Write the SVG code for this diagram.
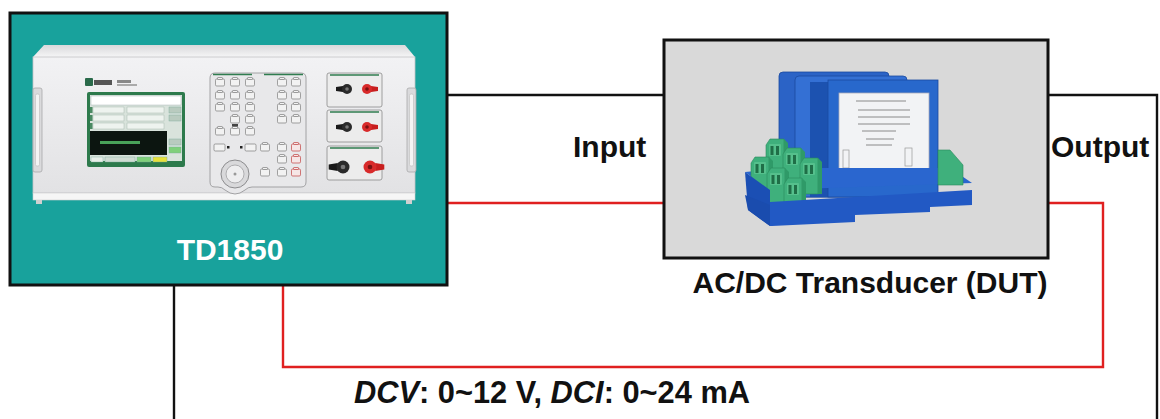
<svg xmlns="http://www.w3.org/2000/svg" width="1160" height="419" viewBox="0 0 1160 419">
<defs>
<style>
.lbl{font-family:"Liberation Sans",Arial,sans-serif;font-weight:bold;font-size:30px;fill:#111}
.wire{fill:none;stroke-width:2.4;stroke-linejoin:miter}
.blk{stroke:#111}
.red{stroke:#e02020}
.key{fill:#f2f2f2;stroke:#7d7d7d;stroke-width:0.7}
.kred{fill:#f6e6e6;stroke:#c04040;stroke-width:0.7}
.tpanel{fill:#ececec;stroke:#8a8a8a;stroke-width:0.8}
.gbar{stroke:#2f7d4f;stroke-width:1.6}
.term{fill:#3fb07c;stroke:#2a8a5c;stroke-width:0.6}
.termd{fill:#2f9a68}
.slot{fill:#1f6e47}
</style>
<linearGradient id="bodyG" x1="0" y1="0" x2="0" y2="1">
<stop offset="0" stop-color="#f2f2f4"/><stop offset="1" stop-color="#e2e2e4"/>
</linearGradient>
<linearGradient id="topG" x1="0" y1="0" x2="0" y2="1">
<stop offset="0" stop-color="#d9d9db"/><stop offset="1" stop-color="#f5f5f6"/>
</linearGradient>
<g id="k"><rect x="-4.5" y="-3" width="9" height="7" rx="1.2" class="key"/><rect x="-2.5" y="-4.5" width="5" height="2" rx="0.6" class="key"/></g>
<g id="kr"><rect x="-4.5" y="-3" width="9" height="7" rx="1.2" class="kred"/><rect x="-2.5" y="-4.5" width="5" height="2" rx="0.6" class="kred"/></g>
<g id="bpost"><path d="M-11,-2 L-4,-3 L-4,3 L-11,2 Z" fill="#1a1a1a"/><circle r="5" fill="#2a2a2a"/><circle r="1.8" fill="#777"/></g>
<g id="rpost"><path d="M11,-2 L4,-3 L4,3 L11,2 Z" fill="#c81e1e"/><circle r="5" fill="#d82a2a"/><circle r="1.8" fill="#7a1010"/></g>
<g id="tb"><path d="M0,6 L4,0 L18,0 L18,36 L0,36 Z" class="term"/><path d="M18,0 L22,4 L22,36 L18,36 Z" class="termd"/><rect x="3" y="5" width="12" height="12" rx="1" fill="#55c08c"/><rect x="4.5" y="7" width="3" height="9" class="slot"/><rect x="10" y="7" width="3" height="9" class="slot"/></g>
</defs>
<rect width="1160" height="419" fill="#ffffff"/>

<g id="connectors">
<polyline class="wire blk" points="448,95 664,95"/>
<polyline class="wire red" points="448,203 664,203"/>
<polyline class="wire blk" points="1048,95 1157,95 1157,419"/>
<polyline class="wire red" points="1048,203 1103,203 1103,367 283,367 283,286"/>
<polyline class="wire blk" points="174,286 174,419"/>
<text class="lbl" x="573" y="157">Input</text>
<text class="lbl" x="1051" y="157">Output</text>
<text class="lbl" x="354" y="403" style="font-size:30.8px"><tspan font-style="italic">DCV</tspan>: 0~12 V, <tspan font-style="italic">DCI</tspan>: 0~24 mA</text>
</g>

<g id="td1850">
<rect x="10" y="13" width="437" height="272" fill="#18a29c" stroke="#111" stroke-width="3"/>
<polygon points="44,45 405,45 415,57 33,57" fill="url(#topG)"/>
<rect x="33" y="57" width="382" height="136" fill="url(#bodyG)" stroke="#c4c4c6" stroke-width="0.8"/>
<rect x="33" y="193" width="382" height="7" fill="#f6f6f6" stroke="#cfcfcf" stroke-width="0.6"/>
<rect x="36" y="200" width="6" height="4" fill="#d0d0d0"/>
<rect x="406" y="200" width="6" height="4" fill="#d0d0d0"/>
<rect x="33" y="88" width="9" height="84" rx="2" fill="#dadadc" stroke="#a8a8aa" stroke-width="0.8"/>
<rect x="35.5" y="94" width="4" height="72" rx="1.5" fill="#f4f4f4" stroke="#b4b4b4" stroke-width="0.5"/>
<rect x="407" y="88" width="9" height="84" rx="2" fill="#dadadc" stroke="#a8a8aa" stroke-width="0.8"/>
<rect x="409.5" y="94" width="4" height="72" rx="1.5" fill="#f4f4f4" stroke="#b4b4b4" stroke-width="0.5"/>
<g fill="#2a6a4a"><rect x="85" y="78" width="8" height="8" rx="1"/><rect x="94" y="80" width="18" height="5" fill="#555"/><rect x="117" y="80" width="14" height="3" fill="#888"/><rect x="117" y="84" width="20" height="2" fill="#aaa"/></g>
<rect x="87" y="92" width="98" height="75" rx="2" fill="#2d7a4c"/>
<rect x="90" y="95" width="92" height="66" fill="#d9e3dc"/>
<rect x="91" y="96" width="90" height="9" fill="#ffffff" stroke="#9aa" stroke-width="0.4"/>
<g fill="#eef3ef" stroke="#9ab0a0" stroke-width="0.4">
<rect x="93" y="107" width="31" height="6"/><rect x="127" y="107" width="37" height="6"/>
<rect x="93" y="115" width="31" height="6"/><rect x="127" y="115" width="37" height="6"/>
<rect x="93" y="123" width="31" height="6"/><rect x="127" y="123" width="37" height="6"/>
</g>
<g fill="#4a8a62"><rect x="90" y="107" width="2.5" height="6"/><rect x="90" y="115" width="2.5" height="6"/><rect x="90" y="123" width="2.5" height="6"/></g>
<rect x="90" y="131" width="77" height="24" fill="#0c1510"/>
<rect x="100" y="141" width="40" height="3" fill="#57c46a" opacity="0.8"/>
<g fill="#b9cbbf" stroke="#7a9" stroke-width="0.4"><rect x="169" y="107" width="12" height="6"/><rect x="169" y="115" width="12" height="6"/><rect x="169" y="139" width="12" height="6"/><rect x="169" y="147" width="12" height="6" fill="#7fd07a"/></g>
<g stroke="#7a9" stroke-width="0.4"><rect x="91" y="157" width="12" height="5" fill="#e8efe9"/><rect x="105" y="157" width="30" height="5" fill="#cfdcd3"/><rect x="137" y="157" width="14" height="5" fill="#7fd07a"/><rect x="153" y="157" width="14" height="5" fill="#e6e03a"/></g>
<path d="M215,73 H301 Q306,73 306,78 V182 Q306,187 301,187 H252 Q248,187 245,190 Q235,198 225,190 Q222,187 218,187 H215 Q210,187 210,182 V78 Q210,73 215,73 Z" fill="#e8e8ea" stroke="#9a9a9c" stroke-width="0.9"/>
<line x1="213" y1="74.5" x2="252" y2="74.5" class="gbar"/>
<line x1="264" y1="74.5" x2="303" y2="74.5" class="gbar"/>
<g>
<use href="#k" x="220" y="82"/><use href="#k" x="235" y="82"/><use href="#k" x="250" y="82"/><use href="#k" x="282" y="82"/><use href="#k" x="296" y="82"/>
<use href="#k" x="220" y="95"/><use href="#k" x="235" y="95"/><use href="#k" x="250" y="95"/><use href="#k" x="282" y="95"/><use href="#k" x="296" y="95"/>
<use href="#k" x="220" y="107"/><use href="#k" x="235" y="107"/><use href="#k" x="250" y="107"/><use href="#k" x="282" y="107"/><use href="#k" x="296" y="107"/>
<use href="#k" x="235" y="119"/><use href="#k" x="250" y="119"/><use href="#k" x="282" y="119"/><use href="#k" x="296" y="119"/>
<use href="#k" x="220" y="131"/><use href="#k" x="235" y="131"/><use href="#k" x="250" y="131"/>
<use href="#k" x="265" y="147"/><use href="#k" x="282" y="147"/><use href="#kr" x="296" y="147"/>
<use href="#k" x="282" y="159"/><use href="#kr" x="296" y="159"/>
<use href="#k" x="265" y="172"/><use href="#k" x="282" y="172"/><use href="#kr" x="296" y="172"/>
</g>
<rect x="232" y="124" width="6" height="2.5" fill="#444"/>
<rect x="214" y="144" width="11" height="7" rx="1.2" class="key"/><rect x="227" y="146" width="2.5" height="2.5" fill="#222"/>
<rect x="245" y="144" width="11" height="7" rx="1.2" class="key"/><rect x="240" y="146" width="2.5" height="2.5" fill="#222"/>
<circle cx="235" cy="174" r="14" fill="#d9d9db" stroke="#8c8c8e" stroke-width="1"/>
<circle cx="235" cy="174" r="9" fill="#eeeeef" stroke="#a0a0a2" stroke-width="0.8"/>
<circle cx="235" cy="174" r="1.5" fill="#999"/>
<rect x="327" y="73" width="55" height="34" rx="2" class="tpanel"/>
<line x1="330" y1="75" x2="379" y2="75" class="gbar"/>
<use href="#bpost" x="347" y="89"/><use href="#rpost" x="367" y="89"/>
<rect x="327" y="110" width="55" height="32" rx="2" class="tpanel"/>
<line x1="330" y1="112" x2="379" y2="112" class="gbar"/>
<use href="#bpost" x="347" y="127"/><use href="#rpost" x="367" y="127"/>
<rect x="327" y="146" width="55" height="34" rx="2" class="tpanel"/>
<line x1="330" y1="148" x2="379" y2="148" class="gbar"/>
<g transform="translate(343,167) scale(1.3)"><use href="#bpost"/></g>
<g transform="translate(370,167) scale(1.3)"><use href="#rpost"/></g>
<text x="230" y="260" text-anchor="middle" style="font-family:'Liberation Sans',Arial,sans-serif;font-weight:bold;font-size:30px;fill:#ffffff">TD1850</text>
</g>

<g id="dut">
<rect x="664" y="40" width="384" height="218" fill="#d9d9d9" stroke="#111" stroke-width="3"/>
<rect x="779" y="72" width="110" height="125" rx="4" fill="#2b63c6" stroke="#1a4aa0" stroke-width="0.8"/>
<rect x="795" y="76" width="112" height="121" rx="4" fill="#3470d4" stroke="#1a4aa0" stroke-width="0.8"/>
<rect x="810" y="82" width="18" height="115" fill="#1c52b0"/>
<rect x="828" y="80" width="110" height="117" fill="#2868cc" stroke="#1a4aa0" stroke-width="0.8"/>
<rect x="839" y="93" width="90" height="89" fill="#f2f3f5" stroke="#aab" stroke-width="0.8"/>
<g stroke="#8a8a8a" stroke-width="1">
<line x1="856" y1="101" x2="906" y2="101"/>
<line x1="858" y1="110" x2="910" y2="110"/>
<line x1="858" y1="117" x2="910" y2="117"/>
<line x1="858" y1="124" x2="910" y2="124"/>
<line x1="862" y1="131" x2="896" y2="131"/>
<line x1="866" y1="139" x2="894" y2="139"/>
<line x1="866" y1="145" x2="892" y2="145"/>
</g>
<rect x="843" y="150" width="6" height="18" fill="none" stroke="#999" stroke-width="0.7"/>
<rect x="905" y="148" width="7" height="18" fill="none" stroke="#999" stroke-width="0.7"/>
<rect x="846" y="170" width="20" height="9" fill="#e84848"/>
<polygon points="745,172 790,168 950,168 972,183 770,190" fill="#2a66cf"/>
<path d="M938,150 L950,150 L963,165 L963,185 L938,185 Z" class="term"/>
<use href="#tb" x="766" y="139"/>
<use href="#tb" x="783" y="148"/>
<use href="#tb" x="800" y="158"/>
<use href="#tb" x="751" y="157"/>
<use href="#tb" x="767" y="168"/>
<use href="#tb" x="784" y="178"/>
<polygon points="745,172 770,190 770,226 748,210" fill="#1b4fb4"/>
<polygon points="745,195 770,205 770,226 748,210" fill="#1a4cae"/>
<polygon points="770,202 972,190 972,205 930,207 930,212 855,215 855,222 772,226 770,226" fill="#2259c4"/>
<text x="870" y="293" text-anchor="middle" class="lbl">AC/DC Transducer (DUT)</text>
</g>
</svg>
